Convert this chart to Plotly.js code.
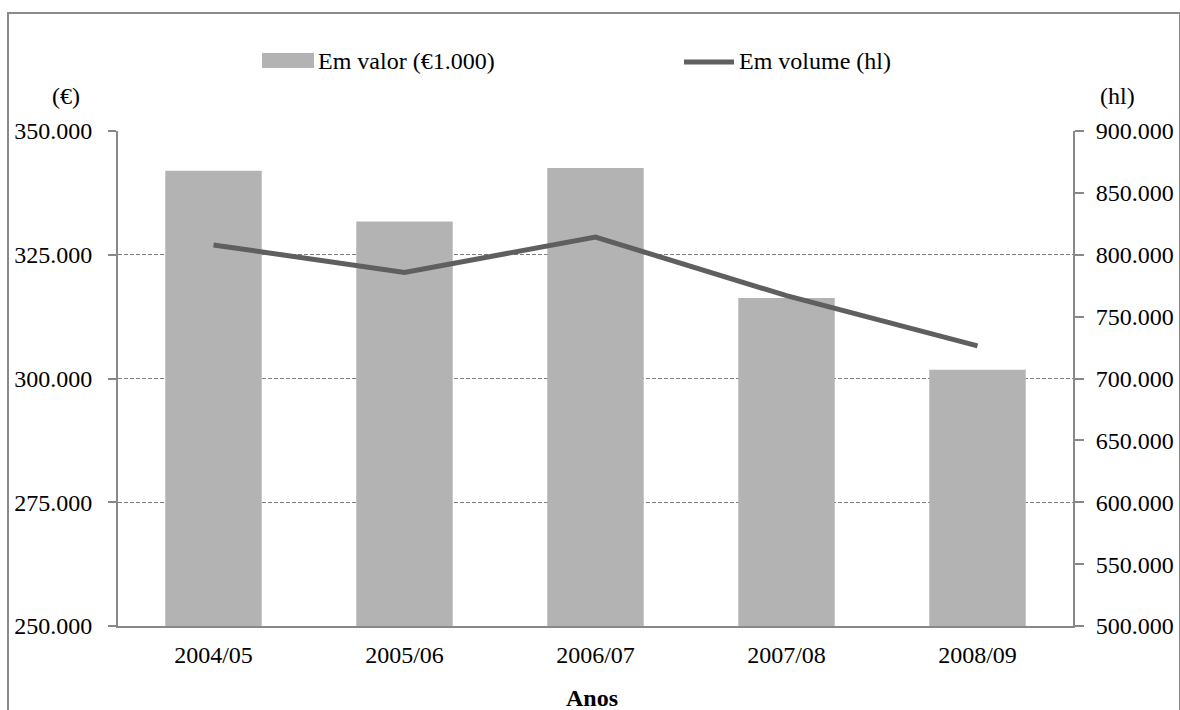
<!DOCTYPE html>
<html>
<head>
<meta charset="utf-8">
<script src="https://cdn.plot.ly/plotly-3.0.1.min.js"></script>
<style>
  html, body { margin: 0; padding: 0; background: #fff; }
  #wrap { position: relative; width: 1180px; height: 710px; overflow: hidden; }
  #chart { position: absolute; left: 0; top: 0; width: 1180px; height: 710px; }
  #frame { position: absolute; left: 7px; top: 12px; width: 1170px; height: 740px;
           border: 2px solid #8a8a8a; pointer-events: none; }
</style>
</head>
<body>
<div id="wrap">
  <div id="chart"></div>
  <div id="frame"></div>
</div>
<script>
// Campaign years
const anos = ['2004/05', '2005/06', '2006/07', '2007/08', '2008/09'];
// Value series (left axis)
const emValor = [341980, 331740, 342530, 316260, 301780];
// Volume series in hectolitres (right axis)
const emVolume = [807900, 785700, 814300, 766900, 726300];
// Series names
const nomeValor = 'Em valor (€1.000)';
const nomeVolume = 'Em volume (hl)';
// Axis tick values
const ticksEsq = [250000, 275000, 300000, 325000, 350000];
const ticksDir = [500000, 550000, 600000, 650000, 700000, 750000, 800000, 850000, 900000];

const FONT = '"Liberation Serif", "Times New Roman", Times, "DejaVu Serif", serif';
const FS = 24;
const W = 1180, H = 710;
const M = { l: 118, r: 107, t: 131, b: 84 };
const PW = W - M.l - M.r, PH = H - M.t - M.b;
const px = x => (x - M.l) / PW;
const py = y => (H - M.b - y) / PH;

const barColor = '#b3b3b3';
const lineColor = '#5f5f5f';
const axisColor = '#888888';
const txt = { family: FONT, size: FS, color: '#000' };

const traces = [
  {
    type: 'bar', x: anos, y: emValor, name: nomeValor,
    marker: { color: barColor }, yaxis: 'y', hoverinfo: 'skip'
  },
  {
    type: 'scatter', mode: 'lines', x: anos, y: emVolume, name: nomeVolume,
    line: { color: lineColor, width: 5 }, yaxis: 'y2', hoverinfo: 'skip'
  }
];

const layout = {
  width: W, height: H,
  margin: M,
  paper_bgcolor: '#fff', plot_bgcolor: '#fff',
  separators: ',.',
  showlegend: false,
  bargap: 0.495,
  font: txt,
  xaxis: {
    type: 'category',
    showline: true, linecolor: axisColor, linewidth: 2,
    ticks: '', showgrid: false, zeroline: false,
    tickfont: txt,
    ticklabelstandoff: 6
  },
  yaxis: {
    range: [250000, 350000],
    tickvals: ticksEsq, tickformat: ',d',
    showline: true, linecolor: axisColor, linewidth: 2,
    ticks: 'outside', ticklen: 8, tickcolor: axisColor, tickwidth: 2,
    showgrid: true, gridcolor: '#7f7f7f', gridwidth: 1.2, griddash: '4px,2px',
    zeroline: false,
    tickfont: txt,
    ticklabelstandoff: 11
  },
  yaxis2: {
    range: [500000, 900000], overlaying: 'y', side: 'right',
    tickvals: ticksDir, tickformat: ',d',
    showline: true, linecolor: axisColor, linewidth: 2,
    ticks: 'outside', ticklen: 9, tickcolor: axisColor, tickwidth: 2,
    showgrid: false, zeroline: false,
    tickfont: txt,
    ticklabelstandoff: 7
  },
  shapes: [
    // legend swatches
    { type: 'rect', xref: 'paper', yref: 'paper',
      x0: px(262), x1: px(314), y0: py(68), y1: py(53),
      fillcolor: barColor, line: { width: 0 } },
    { type: 'line', xref: 'paper', yref: 'paper',
      x0: px(684), x1: px(734), y0: py(62), y1: py(62),
      line: { color: lineColor, width: 5 } }
  ],
  annotations: [
    { xref: 'paper', yref: 'paper', x: px(316), y: py(61), xanchor: 'left', yanchor: 'middle',
      text: nomeValor, showarrow: false, font: txt },
    { xref: 'paper', yref: 'paper', x: px(737), y: py(61), xanchor: 'left', yanchor: 'middle',
      text: nomeVolume, showarrow: false, font: txt },
    { xref: 'paper', yref: 'paper', x: px(66), y: py(96), xanchor: 'center', yanchor: 'middle',
      text: '(€)', showarrow: false, font: txt },
    { xref: 'paper', yref: 'paper', x: px(1117), y: py(96), xanchor: 'center', yanchor: 'middle',
      text: '(hl)', showarrow: false, font: txt },
    { xref: 'paper', yref: 'paper', x: px(592), y: py(698), xanchor: 'center', yanchor: 'middle',
      text: '<b>Anos</b>', showarrow: false, font: txt }
  ]
};

Plotly.newPlot('chart', traces, layout, { staticPlot: true, displayModeBar: false });
</script>
</body>
</html>
